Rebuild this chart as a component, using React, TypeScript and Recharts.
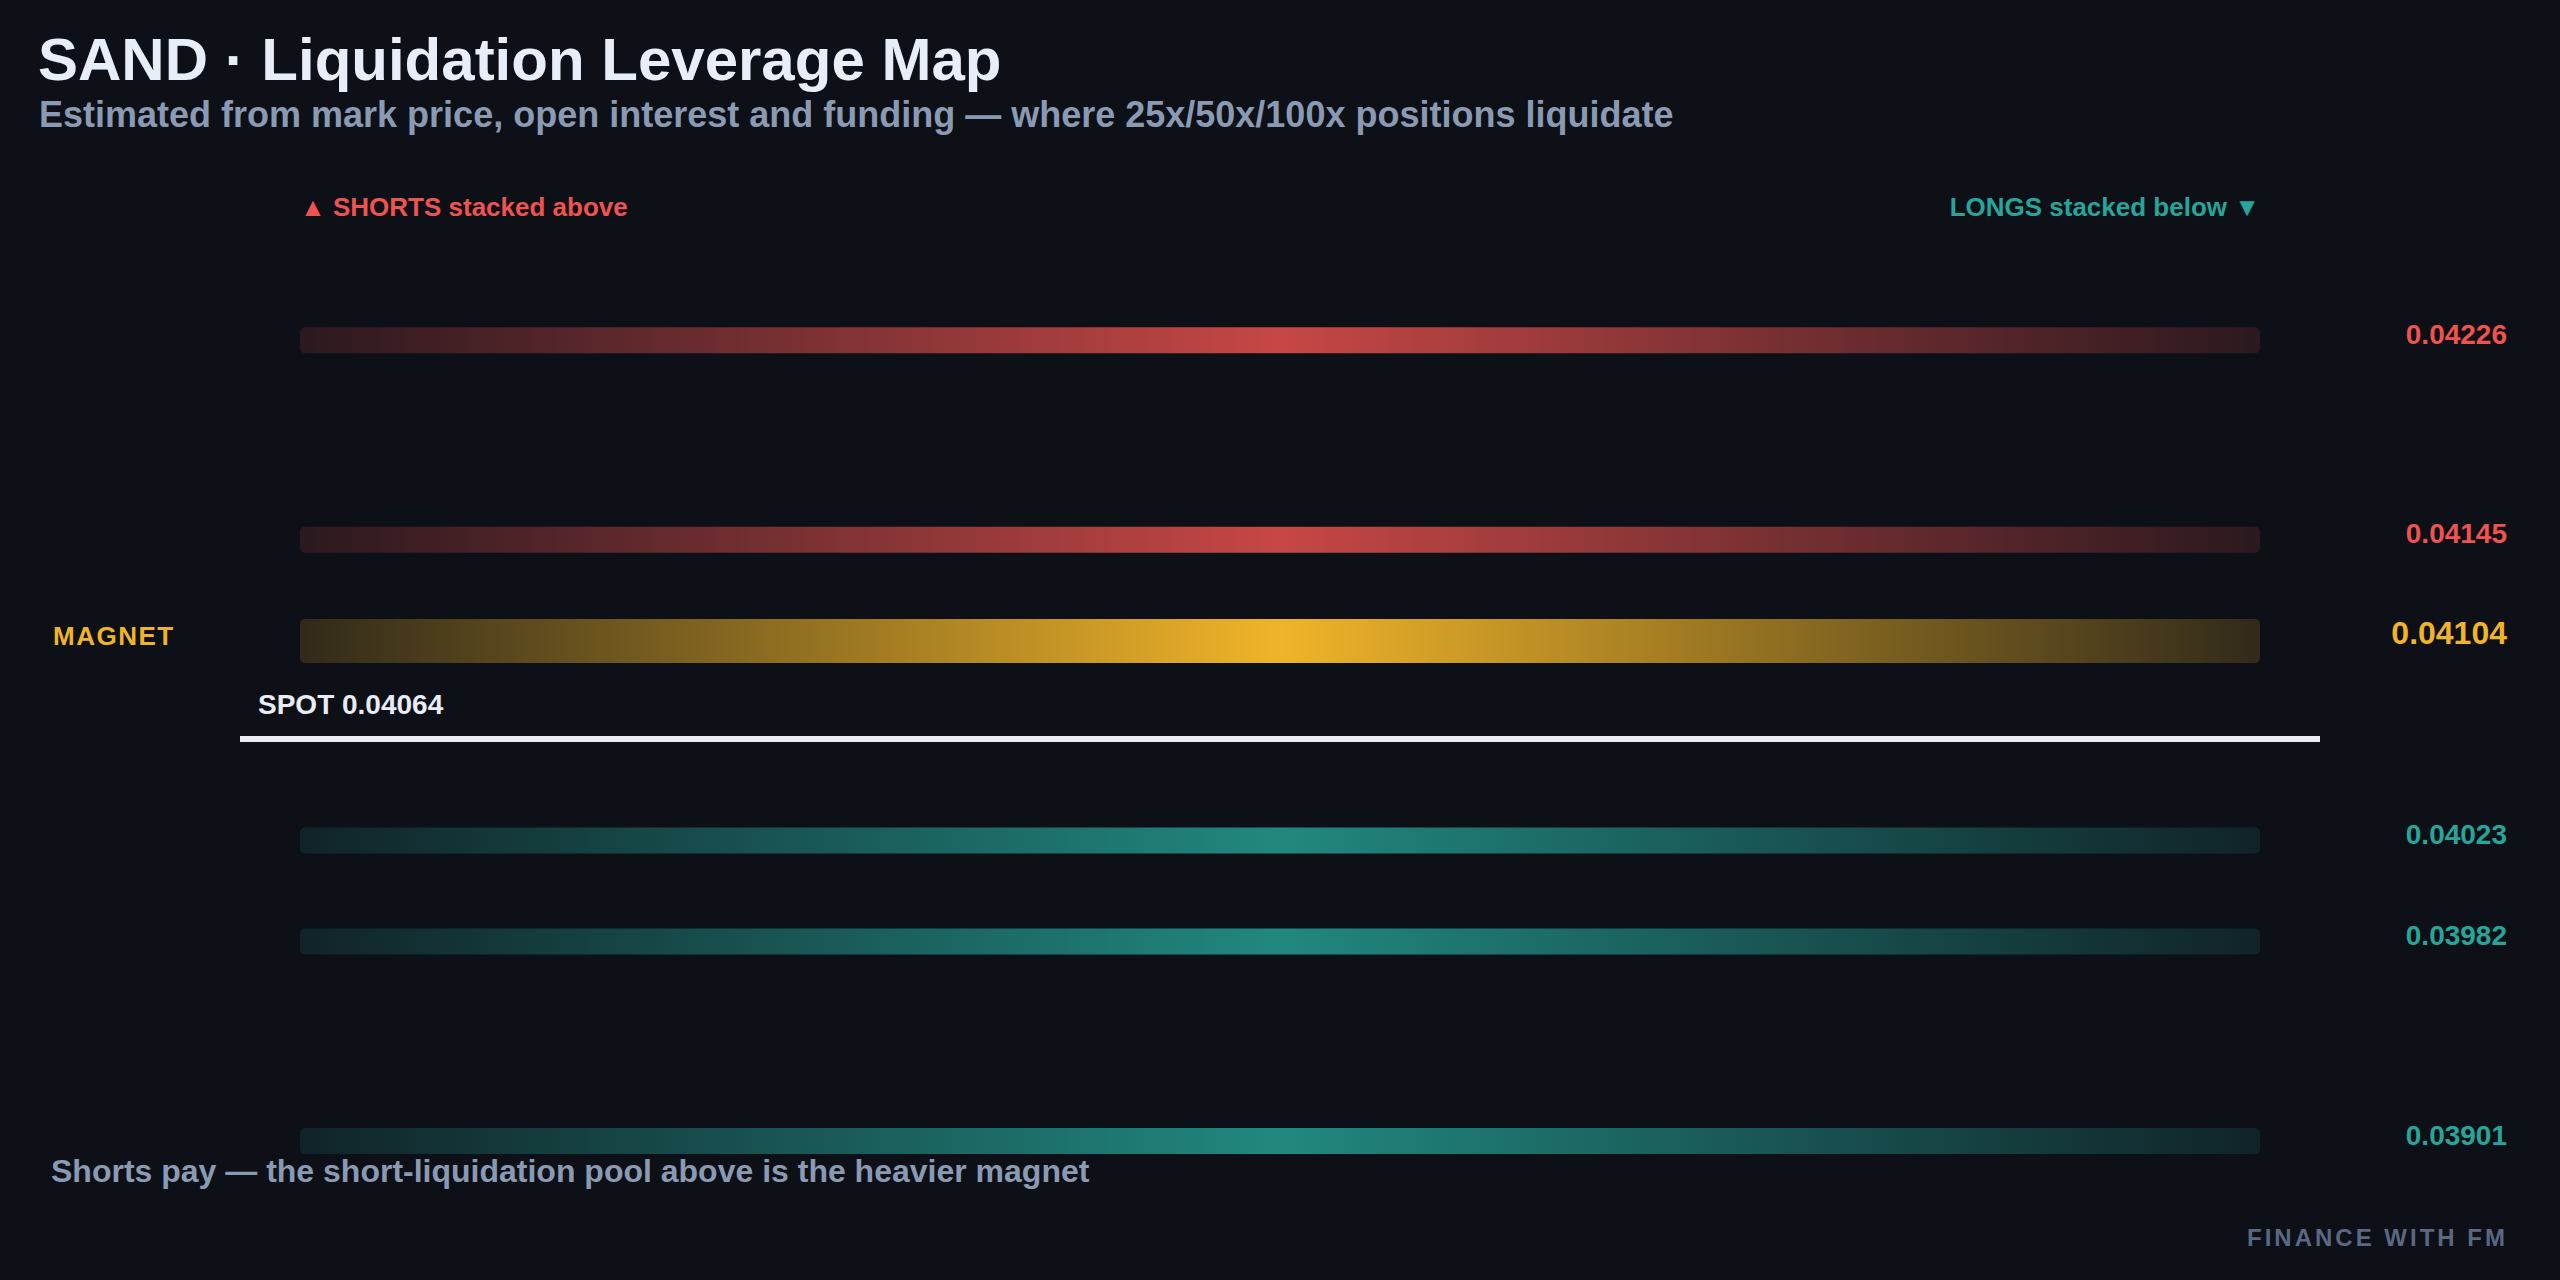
import React from 'react';
import { Bar, ComposedChart, ReferenceLine, XAxis, YAxis } from 'recharts';

// liquidation clusters, top to bottom
const levels = [0.04226, 0.04145, 0.04104, 0.04023, 0.03982, 0.03901];
const sides = ['short', 'short', 'magnet', 'long', 'long', 'long'];
const spans = [1, 1, 1, 1, 1, 1];
const spotPrice = 0.04064;
const priceDomain = [0.0387, 0.0426];

const rows = levels.map((price, i) => ({ price, side: sides[i], span: spans[i] }));

const FONT = '"Liberation Sans", Arial, Helvetica, sans-serif';
const BG = '#0d1017';

const SIDE: Record<string, { color: string; peak: number; size: number; font: number }> = {
  short: { color: '#ef5350', peak: 0.82, size: 26, font: 28 },
  long: { color: '#26a69a', peak: 0.8, size: 26, font: 28 },
  magnet: { color: '#f0b429', peak: 1, size: 44, font: 32 },
};

function PoolBar(props: any) {
  const { x, y, width, height, index } = props;
  const side = (props.payload && props.payload.side) || rows[index].side;
  const s = SIDE[side];
  const cy = y + height / 2;
  return (
    <g>
      <rect x={x} y={cy - s.size / 2} width={width} height={s.size} rx={5} ry={5} fill={`url(#pool-${side})`} />
      {side === 'magnet' && (
        <text x={x - 247} y={cy + 4} fill={s.color} fontSize={26} fontWeight={700} letterSpacing={1.5} fontFamily={FONT}>
          MAGNET
        </text>
      )}
    </g>
  );
}

function PriceTick(props: any) {
  const { x, y, payload } = props;
  const i = levels.indexOf(payload.value);
  const s = SIDE[sides[i]] || SIDE.short;
  return (
    <text x={x} y={y + 4} textAnchor="end" fill={s.color} fontSize={s.font} fontWeight={700} fontFamily={FONT}>
      {Number(payload.value).toFixed(5)}
    </text>
  );
}

function SpotLine(props: any) {
  const left = Math.min(props.x1, props.x2);
  const right = Math.max(props.x1, props.x2);
  const y = props.y1;
  return (
    <g>
      <line x1={left - 60} x2={right + 60} y1={y} y2={y} stroke="#e8ecf5" strokeWidth={6} />
      <text x={left - 42} y={y - 25} fill="#e8ecf5" fontSize={28} fontWeight={700} fontFamily={FONT}>
        SPOT {spotPrice.toFixed(5)}
      </text>
    </g>
  );
}

export default function App() {
  return (
    <div style={{ position: 'relative', width: 2560, height: 1280, background: BG, fontFamily: FONT }}>
      <style>{`body{margin:0;background:${BG}}`}</style>
      <ComposedChart
        width={2560}
        height={1280}
        layout="vertical"
        data={rows}
        margin={{ top: 256, right: 50, bottom: 63, left: 300 }}
      >
        <defs>
          {Object.keys(SIDE).map((k) => (
            <linearGradient key={k} id={`pool-${k}`} x1="0" y1="0" x2="1" y2="0">
              <stop offset="0%" stopColor={SIDE[k].color} stopOpacity={SIDE[k].peak * 0.16} />
              <stop offset="50%" stopColor={SIDE[k].color} stopOpacity={SIDE[k].peak} />
              <stop offset="100%" stopColor={SIDE[k].color} stopOpacity={SIDE[k].peak * 0.16} />
            </linearGradient>
          ))}
        </defs>
        <XAxis type="number" domain={[0, 1]} hide />
        <YAxis
          type="number"
          dataKey="price"
          orientation="right"
          reversed
          domain={priceDomain}
          ticks={levels}
          interval={0}
          width={250}
          axisLine={false}
          tickLine={false}
          tickSize={0}
          tickMargin={247}
          tick={<PriceTick />}
        />
        <Bar dataKey="span" barSize={44} isAnimationActive={false} shape={<PoolBar />} />
        <ReferenceLine y={spotPrice} shape={<SpotLine />} />
      </ComposedChart>
      <svg width={2560} height={1280} style={{ position: 'absolute', left: 0, top: 0, pointerEvents: 'none' }}>
        <text x={38} y={80} fill="#e8eef7" fontSize={60} fontWeight={700} fontFamily={FONT}>
          SAND · Liquidation Leverage Map
        </text>
        <text x={39} y={127} fill="#8a9ab3" fontSize={36} fontWeight={700} fontFamily={FONT}>
          Estimated from mark price, open interest and funding — where 25x/50x/100x positions liquidate
        </text>
        <text x={300} y={216} fill="#ef5350" fontSize={26} fontWeight={700} fontFamily={FONT}>
          ▲ SHORTS stacked above
        </text>
        <text x={2260} y={216} textAnchor="end" fill="#26a69a" fontSize={26} fontWeight={700} fontFamily={FONT}>
          LONGS stacked below ▼
        </text>
        <text x={51} y={1182} fill="#8a9ab3" fontSize={32} fontWeight={700} fontFamily={FONT}>
          Shorts pay — the short-liquidation pool above is the heavier magnet
        </text>
        <text x={2508} y={1246} textAnchor="end" fill="#5b6883" fontSize={24} fontWeight={700} letterSpacing={3} fontFamily={FONT}>
          FINANCE WITH FM
        </text>
      </svg>
    </div>
  );
}
